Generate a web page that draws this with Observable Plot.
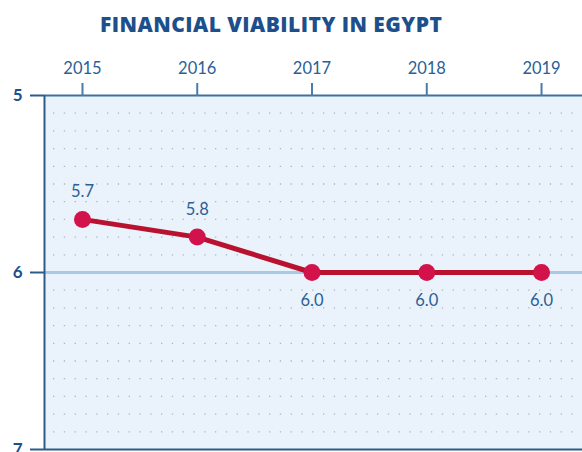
<!DOCTYPE html>
<html>
<head>
<meta charset="utf-8">
<script src="https://cdn.jsdelivr.net/npm/d3@7"></script>
<script src="https://cdn.jsdelivr.net/npm/@observablehq/plot@0.6"></script>
<style>
  html, body { margin: 0; padding: 0; background: #ffffff; }
  #wrap { width: 582px; height: 452px; overflow: hidden; position: relative; }
  #title { height: 45px; margin: 0; padding: 0; position: relative; }
  #title span { position: absolute; left: 100px; top: 10px; font-family: "Open Sans", sans-serif; font-weight: 800; font-size: 21px; color: #1d4f8c; white-space: nowrap; letter-spacing: 0.45px; }
  svg { display: block; }
</style>
</head>
<body>
<div id="wrap">
  <div id="title"><span>FINANCIAL VIABILITY IN EGYPT</span></div>
  <div id="chart"></div>
</div>
<script>
const years = [2015, 2016, 2017, 2018, 2019];
const values = [5.7, 5.8, 6.0, 6.0, 6.0];
const yTicks = [5, 6, 7];
const gridValues = [5.1, 5.2, 5.3, 5.4, 5.5, 5.6, 5.7, 5.8, 5.9, 6.1, 6.2, 6.3, 6.4, 6.5, 6.6, 6.7, 6.8, 6.9];

const data = years.map((year, i) => ({year, value: values[i]}));
const xMin = 2014.669, xMax = 2019.357;
const font = "Lato, 'Open Sans', sans-serif";

const chart = Plot.plot({
  width: 582,
  height: 407,
  marginTop: 50,
  marginLeft: 44,
  marginRight: 0,
  marginBottom: 3,
  style: {fontFamily: font, background: "transparent"},
  x: {domain: [xMin, xMax], axis: null},
  y: {domain: [5, 7], reverse: true, axis: null},
  marks: [
    Plot.frame({fill: "#eaf2fb", stroke: null}),
    Plot.ruleY(gridValues, {stroke: "#a7b6c6", strokeWidth: 1.3, strokeDasharray: "1.3,9.5", strokeDashoffset: -9}),
    Plot.ruleY([6], {stroke: "#a9c8e8", strokeWidth: 3}),
    Plot.ruleY([5], {stroke: "#3f70a0", strokeWidth: 2}),
    Plot.ruleY([7], {stroke: "#2d5c8a", strokeWidth: 2}),
    Plot.ruleX([xMin], {stroke: "#2d5c8a", strokeWidth: 2, y1: 5, y2: 7}),
    Plot.axisX(years, {anchor: "top", label: null, tickSize: 13, tickPadding: 9, tickFormat: d => String(d), fontSize: 16.5, stroke: "#4a7bab", strokeWidth: 2, fill: "#2b5f95", fontFamily: font}),
    Plot.axisY(yTicks, {anchor: "left", label: null, tickSize: 14, tickPadding: 8, tickFormat: d => String(d), fontSize: 17, fontWeight: "bold", stroke: "#2d5c8a", strokeWidth: 2, fill: "#1d4f8c", fontFamily: font}),
    Plot.line(data, {x: "year", y: "value", stroke: "#b8122f", strokeWidth: 5}),
    Plot.dot(data, {x: "year", y: "value", r: 8.5, fill: "#d2124a", stroke: null}),
    Plot.text(data, {x: "year", y: "value", text: d => d3.format(".1f")(d.value), fontSize: 16.5, fill: "#2b5f95", fontFamily: font,
      filter: d => d.value < 6, lineAnchor: "bottom", dy: -22}),
    Plot.text(data, {x: "year", y: "value", text: d => d3.format(".1f")(d.value), fontSize: 16.5, fill: "#2b5f95", fontFamily: font,
      filter: d => d.value >= 6, lineAnchor: "top", dy: 22})
  ]
});
document.getElementById("chart").appendChild(chart);
</script>
</body>
</html>
